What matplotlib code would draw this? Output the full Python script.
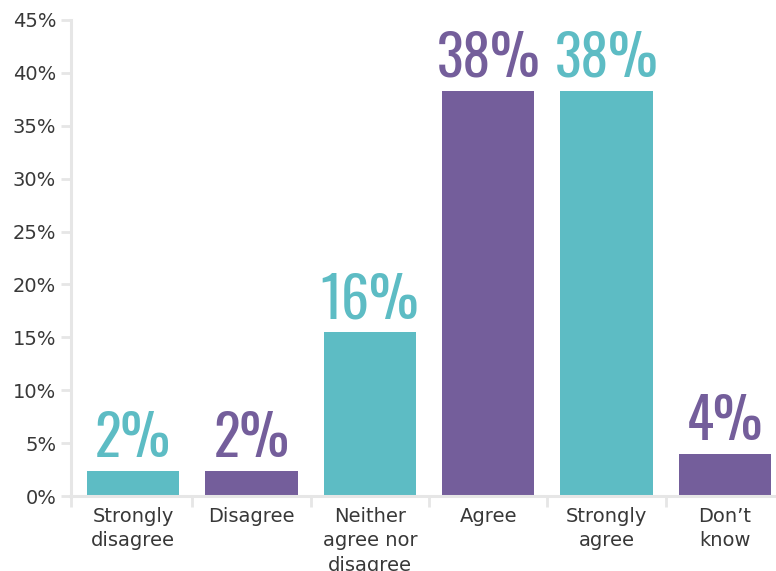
import matplotlib
matplotlib.use("Agg")
import matplotlib.pyplot as plt
from matplotlib.ticker import FixedLocator

# Data
categories = ["Strongly\ndisagree", "Disagree", "Neither\nagree nor\ndisagree",
              "Agree", "Strongly\nagree", "Don\u2019t\nknow"]
values = [2.4, 2.4, 15.5, 38.3, 38.3, 4.0]
value_labels = ["2%", "2%", "16%", "38%", "38%", "4%"]
yticks = [0, 5, 10, 15, 20, 25, 30, 35, 40, 45]
ytick_labels = ["0%", "5%", "10%", "15%", "20%", "25%", "30%", "35%", "40%", "45%"]

TEAL = "#5DBCC4"
PURPLE = "#745E9B"
bar_colors = [TEAL, PURPLE, TEAL, PURPLE, TEAL, PURPLE]
AXIS_GREY = "#E6E6E6"
TEXT_GREY = "#383838"


def main():
    fig = plt.figure(figsize=(7.76, 5.71), dpi=100)
    ax = fig.add_axes([0.0921, 0.1313, 0.9079, 0.8337])

    x = list(range(len(categories)))
    bars = ax.bar(x, values, width=0.78, color=bar_colors)

    # big condensed value labels above bars
    for rect, lab, col in zip(bars, value_labels, bar_colors):
        ax.annotate(lab, (rect.get_x() + rect.get_width() / 2, rect.get_height()),
                    xytext=(0, 10), textcoords="offset points",
                    ha="center", va="baseline", color=col,
                    fontsize=40, fontweight="normal",
                    family=["Oswald", "Bebas Neue", "Barlow Condensed", "DejaVu Sans"])

    ax.set_xlim(-0.52, 5.43)
    ax.set_ylim(0, 45)

    ax.set_yticks(yticks)
    ax.set_yticklabels(ytick_labels)
    ax.set_xticks(x)
    ax.set_xticklabels(categories, linespacing=1.35)
    ax.xaxis.set_minor_locator(FixedLocator([-0.52, 0.5, 1.5, 2.5, 3.5, 4.5]))

    for s in ["top", "right"]:
        ax.spines[s].set_visible(False)
    for s in ["left", "bottom"]:
        ax.spines[s].set_color(AXIS_GREY)
        ax.spines[s].set_linewidth(2.2)

    ax.tick_params(axis="y", length=7, width=2, color=AXIS_GREY,
                   labelsize=14, labelcolor=TEXT_GREY, pad=4)
    ax.tick_params(axis="x", which="major", length=0, labelsize=14,
                   labelcolor=TEXT_GREY, pad=8)
    ax.tick_params(axis="x", which="minor", length=8, width=2, color=AXIS_GREY)

    fig.savefig("out.png", dpi=100)


if __name__ == "__main__":
    main()
